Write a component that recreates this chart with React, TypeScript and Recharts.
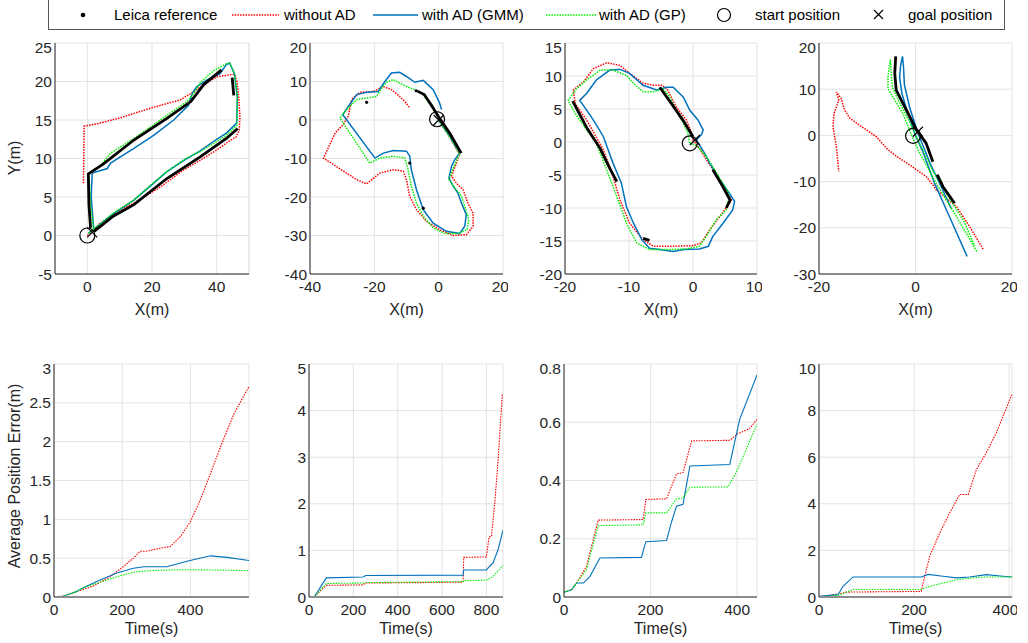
import React from 'react'
import { ComposedChart, Line, Scatter, XAxis, YAxis, CartesianGrid, ReferenceLine } from 'recharts'

// ---- trajectories (x, y in metres) ----
const trajA_red = [[0,0],[4,1.6],[10,3.3],[14.4,4.2],[22.6,6.3],[29.7,8.5],[35,9.8],[40,11.1],[44,12.3],[46,12.8],[47,13.7],[47.2,15.4],[46.8,18],[46.3,20],[45.5,20.9],[44.6,20.9],[40,20.6],[35,19.3],[31.8,18.4],[28.7,17.6],[20,16.6],[10.3,15.3],[3,14.5],[-1,14.2],[-1.2,6.8]]
const trajA_gmm = [[0.3,0.3],[2,0.8],[8,2.8],[14.4,4.6],[20,6.6],[24.6,8.3],[30,9.8],[34.9,11],[40,12.5],[43,13.3],[46.2,14.6],[46.4,18],[45.5,21],[44,22.4],[43,22.2],[41,21],[37,20.2],[33.8,19.3],[32.5,18.5],[31.3,16.9],[26.7,15],[20.5,13],[14.4,11.3],[7.2,9.4],[6.2,8.7],[1.5,8.1],[1.2,5],[2,0.7]]
const trajA_gp = [[0.3,0.3],[2,0.8],[8,2.9],[14.4,4.6],[20,6.7],[24.6,8.3],[30,9.9],[34.9,10.9],[40,12.2],[43,13],[46.2,14.3],[46.4,18],[45.5,21],[44.1,22.4],[43,22.3],[39,21.4],[35,19.9],[32.8,18.4],[30.8,17.4],[24.6,15.6],[19.5,14.1],[14.4,12.6],[7.2,10.7],[4.1,9.1],[0.5,8.1],[1,4],[2,0.7]]
const refA = [
  [[2,0.5],[8,2.5],[14.4,4],[24.6,7.4],[34.9,10.2],[43,12.6],[46.5,13.9]],
  [[41.5,21.5],[36,19.6],[32,17.4],[24.6,15.2],[14.4,12.4],[5,9.3],[0.3,8],[0.5,4],[1,1]],
  [[44.8,20.5],[45.3,18.2]],
]
const refA_dots: number[][] = []
const startA = [[0,0]]
const goalA = [[1.5,0.4]]

const trajB_red = [[0,0],[3.5,-4.5],[6.5,-9],[5.5,-11.2],[4,-14.6],[5.5,-16.4],[7.6,-18.1],[9.1,-21.6],[10.7,-24.2],[10.7,-27.6],[8.6,-29.8],[4.5,-30],[0.3,-28.5],[-3.8,-26.3],[-6.9,-23.3],[-9,-19.8],[-10,-15.5],[-11,-13.3],[-14.1,-12.9],[-18.3,-13.8],[-22.4,-16.6],[-25.5,-15.5],[-35.8,-9.9],[-32.2,-3.4],[-29.7,-1.2],[-28.1,1],[-27.1,5.3],[-24.5,7.2],[-20.3,7.4],[-17.2,8.7],[-14.7,7.9],[-12.1,6.1],[-10.5,4.8],[-9,3.1]]
const trajB_gmm = [[0,0],[3.4,-4.2],[6.5,-8.6],[5,-10.3],[4,-12],[3.2,-15.1],[4.5,-17.2],[6,-19],[7.1,-21.6],[8.6,-24.6],[8.1,-27.6],[6.5,-29.5],[2.4,-28.9],[-1.7,-26.8],[-4.8,-23.3],[-6.9,-18.1],[-8.5,-12.9],[-9,-9.4],[-10,-8.1],[-14.1,-7.9],[-17.2,-8.6],[-19.8,-9.9],[-29.8,1.4],[-28.1,3.5],[-25.5,6.6],[-22.4,7.2],[-18.8,7.4],[-16.7,10],[-14.7,12.2],[-12.1,12.4],[-10,11.3],[-7.4,9.8],[-4.8,10.3],[-1.7,7.9],[0.3,4.4],[0.9,2.7]]
const trajB_gp = [[0,0],[3.4,-4.3],[6.5,-8.7],[5,-11.5],[3.2,-15.5],[5.5,-18.1],[7.1,-19.8],[8.1,-22.4],[9.4,-25.9],[8.8,-28.5],[6,-29.5],[1.9,-29.5],[-1.7,-28],[-4.8,-25],[-6.9,-21.6],[-8.5,-17.2],[-9.5,-12.9],[-10.5,-9.9],[-14.1,-9.4],[-18.3,-9.9],[-21.4,-11.2],[-30.7,0.5],[-29.1,2.3],[-25.5,5.3],[-22.4,5.7],[-19.3,6.1],[-17.7,8.3],[-16.2,9.8],[-14.1,10.5],[-12.1,9.6],[-10,8.7],[-6.9,7.7],[-4.8,6.6],[-2.2,3.5],[-0.2,0.8]]
const refB = [[[-6.6,7.5],[-4.5,6.6],[-2,3.5],[0,0.8],[3.5,-3.5],[7,-8.6]]]
const refB_dots = [[-22.4,4.6],[-9,-11.2],[-4.8,-22.9],[-7,7.6]]
const startB = [[-0.5,0.2]]
const goalB = [[0,0]]

const trajC_red = [[0,0.3],[1,-1],[2.1,-2.7],[4.2,-5.7],[6,-8.8],[4.2,-11.3],[2.6,-13.3],[1.3,-15.3],[0,-15.7],[-3.6,-15.8],[-6.2,-15.8],[-7.8,-14.8],[-9.9,-12.3],[-11.4,-8.8],[-12.5,-5.2],[-14,-1.2],[-16.6,3.3],[-18.4,5.8],[-18.7,7.9],[-17.1,9.1],[-15.6,11.1],[-13.5,12],[-11.4,11.6],[-9.9,10.4],[-7.8,8.9],[-6.2,8.6],[-4.9,8.6],[-4.1,8.1],[-2.6,5.3],[-1,3.3],[-0.2,1.3],[0,0.3]]
const trajC_gmm = [[0.5,0.3],[1.8,-1.7],[2.6,-3.2],[4.2,-5.7],[5.7,-7.8],[6.5,-9],[6.2,-10.3],[4.7,-12.3],[3.1,-14.3],[2.4,-15.8],[1,-16.2],[-1.5,-16.3],[-3.1,-16.6],[-5.2,-16.3],[-6.8,-16.1],[-8,-14.8],[-9.3,-12.3],[-10.4,-9.8],[-11.2,-6.2],[-12.5,-3.2],[-14,0.8],[-15.1,2.6],[-16.1,4.1],[-17.7,6.3],[-16.6,7.4],[-15.1,9.4],[-13,10.9],[-11.4,11],[-9.9,10.4],[-7.8,8.6],[-5.7,7.9],[-4.1,8.3],[-3.1,8.3],[-1.5,6.8],[-0.5,4.8],[0.8,3.3],[1.6,1.8],[1.3,1.1],[0.5,0.3]]
const trajC_gp = [[-0.5,-0.2],[0.5,-0.5],[2.1,-2.2],[4.2,-5.5],[5.7,-8],[5.2,-10.3],[3.6,-11.8],[2.1,-14.3],[1,-15.8],[-1,-16.2],[-4.1,-16.3],[-6.8,-16.3],[-8.8,-15.3],[-10.4,-12.3],[-11.9,-8.3],[-13.5,-4.2],[-15.1,-0.2],[-16.6,1.8],[-18.4,4.3],[-19.5,6.3],[-18.2,8.1],[-16.6,9.4],[-14.5,10.9],[-12.5,10.9],[-10.4,10.1],[-9.3,8.9],[-7.8,7.6],[-6.2,7.6],[-4.7,8.1],[-3.6,6.8],[-2.6,4.8],[-1.5,2.8],[-0.8,1.3],[-0.5,-0.2]]
const refC = [
  [[-18.8,6.2],[-16.5,2],[-14.5,-1],[-13,-4],[-11.9,-6]],
  [[-5.2,8.3],[-3.5,6],[-1.5,3.2],[0,0.8]],
  [[3.1,-4.2],[4.5,-6.5],[5.8,-8.8],[5.2,-10]],
  [[-7.8,-14.6],[-6.8,-14.9]],
]
const refC_dots: number[][] = []
const startC = [[-0.5,-0.2]]
const goalC = [[0.3,0.3]]

const trajD_red = [[14,-24.6],[11.2,-19.7],[8.5,-15.4],[6.4,-13.6],[4.3,-11.8],[3.6,-10.7],[2.2,-8.9],[-1.2,-6.4],[-4,-4.5],[-6,-2.8],[-8.1,-0.3],[-10.9,1.7],[-13.6,3.7],[-14.7,5.5],[-15.4,8],[-16.4,9.4],[-15.9,7.6],[-16.9,4.7],[-17.1,1.9],[-16.4,-2.4],[-15.9,-7.8]]
const trajD_gmm = [[10.7,-26.2],[7,-17.5],[4,-10.5],[1.5,-3.5],[0,0],[-1.5,4.5],[-2.8,9],[-3.3,12.5],[-3.1,15],[-2.7,17.1],[-2.5,15],[-2.3,11],[-1.2,6],[0.5,0.5],[3,-6],[5.5,-11.5],[7.4,-15.8]]
const trajD_gp = [[12.7,-25.1],[8.5,-17.6],[4.3,-10.4],[0.9,-3.9],[-1,0.5],[-2.6,4.7],[-4.7,8.3],[-5.7,10.1],[-5.7,12.7],[-5.2,16.4],[-5,13],[-4.8,10.5],[-3.5,7.5],[-1.5,3.5],[0.5,-1],[3.5,-7.5],[7,-13.5],[10,-18.5],[12.3,-24]]
const refD = [
  [[-4.1,17.1],[-4.3,13.4],[-4,9.8],[-1.9,5.5],[0.2,1.2],[2.2,-1.7],[3.6,-5.7]],
  [[4.5,-8.5],[5.7,-11.1],[8.1,-14.7]],
]
const refD_dots: number[][] = []
const startD = [[-0.5,-0.1]]
const goalD = [[0.5,0.8]]

// ---- average position error (time s, error m) ----
const errA_red = [[0,0],[26.5,0.01],[66,0.07],[115,0.14],[164,0.26],[203,0.39],[233,0.5],[253,0.59],[272,0.59],[302,0.62],[341,0.65],[371,0.78],[400,0.97],[429,1.25],[459,1.59],[488,1.93],[528,2.36],[572,2.71]]
const errA_gmm = [[0,0],[26.5,0.01],[66,0.07],[86,0.12],[135,0.22],[184,0.31],[233,0.37],[263,0.39],[331,0.39],[390,0.46],[459,0.53],[508,0.51],[572,0.47]]
const errA_gp = [[0,0],[26.5,0.01],[66,0.07],[86,0.12],[135,0.19],[184,0.26],[233,0.32],[282,0.34],[351,0.35],[429,0.35],[572,0.34]]

const errB_red = [[0,0.01],[25,0.01],[78,0.25],[244,0.26],[256,0.3],[529,0.31],[695,0.32],[698,0.85],[800,0.86],[812,1.29],[823,1.3],[838,2.02],[853,2.95],[872,4.35]]
const errB_gmm = [[0,0.01],[25,0.01],[78,0.41],[244,0.43],[256,0.46],[695,0.47],[698,0.58],[800,0.58],[815,0.66],[830,0.73],[853,1.02],[875,1.43]]
const errB_gp = [[0,0.01],[25,0.01],[78,0.29],[244,0.3],[256,0.31],[695,0.33],[698,0.35],[800,0.36],[830,0.44],[875,0.68]]

const errC_red = [[0,0.016],[17.7,0.025],[29,0.048],[52,0.105],[79,0.264],[183,0.266],[189,0.335],[237,0.337],[260,0.423],[275,0.427],[295,0.536],[383,0.538],[402,0.561],[429,0.578],[446,0.61]]
const errC_gmm = [[0,0.016],[17.7,0.025],[29,0.048],[45,0.048],[60,0.071],[83,0.134],[179,0.136],[189,0.19],[237,0.194],[248,0.255],[260,0.312],[275,0.318],[291,0.45],[383,0.455],[406,0.61],[446,0.762]]
const errC_gp = [[0,0.016],[17.7,0.025],[29,0.048],[52,0.094],[79,0.245],[183,0.248],[189,0.289],[237,0.289],[260,0.337],[275,0.34],[291,0.377],[379,0.378],[398,0.427],[446,0.593]]

const errD_red = [[0,0],[43.5,0.14],[57.5,0.21],[215,0.24],[219,0.6],[233,1.75],[254,2.75],[275,3.61],[296,4.4],[314,4.4],[331,5.47],[352,6.19],[373,7.05],[406,8.7]]
const errD_gmm = [[0,0.03],[40,0.1],[50.5,0.46],[71.6,0.86],[215,0.86],[229.5,0.97],[261,0.89],[289,0.82],[317,0.86],[352,0.96],[387,0.89],[406,0.86]]
const errD_gp = [[0,0],[40,0.07],[71.6,0.32],[215,0.32],[233,0.46],[261,0.6],[289,0.74],[324,0.82],[352,0.86],[406,0.86]]

const RED = '#ff0000'
const BLUE = '#0072bd'
const GREEN = '#00ee00'
const FONT = '"Liberation Sans", Arial, sans-serif'
const YW = 45
const PAD = 16

const toPts = (a: number[][]) => a.map(([x, y]) => ({ x, y }))

const CircleMark = (p: any) => <circle cx={p.cx} cy={p.cy} r={7.5} fill="none" stroke="#000" strokeWidth={1.2} />
const CrossMark = (p: any) => (
  <path d={`M${p.cx - 5},${p.cy - 5}L${p.cx + 5},${p.cy + 5}M${p.cx - 5},${p.cy + 5}L${p.cx + 5},${p.cy - 5}`} stroke="#000" strokeWidth={1.2} />
)
const DotMark = (p: any) => <circle cx={p.cx} cy={p.cy} r={1.6} fill="#000" />

type PanelProps = {
  rect: [number, number, number, number]
  xDomain: [number, number]
  yDomain: [number, number]
  xTicks: number[]
  yTicks: number[]
  xLabel: string
  xh: number
  red: number[][]
  gmm: number[][]
  gp: number[][]
  refs?: number[][][]
  dots?: number[][]
  start?: number[][]
  goal?: number[][]
  thin?: boolean
  edgeX?: number
}

function Panel(p: PanelProps) {
  const [x0, x1, y0, y1] = p.rect
  const w = x1 - x0 + YW + 5
  const h = y1 - y0 + 5 + p.xh + PAD
  const lw = p.thin ? 1.1 : 1.5
  const tick = { fill: '#262626', fontSize: 15.5, fontFamily: FONT }
  return (
    <div style={{ position: 'absolute', left: x0 - YW, top: y0 - 5 }}>
      <ComposedChart width={w} height={h} margin={{ top: 5, right: 5, bottom: PAD, left: 0 }}>
        <CartesianGrid stroke="#e3e3e3" />
        <XAxis
          type="number"
          dataKey="x"
          domain={p.xDomain}
          ticks={p.xTicks}
          allowDataOverflow
          height={p.xh}
          tickLine={false}
          tickSize={5}
          axisLine={{ stroke: p.thin ? '#8c8c8c' : '#262626', strokeWidth: p.thin ? 2 : 1 }}
          tick={tick}
          label={{ value: p.xLabel, position: 'insideBottom', offset: 0, fill: '#262626', fontSize: 16, fontFamily: FONT }}
        />
        <YAxis
          type="number"
          dataKey="y"
          domain={p.yDomain}
          ticks={p.yTicks}
          allowDataOverflow
          width={YW}
          tickLine={false}
          tickSize={3}
          tickMargin={0}
          axisLine={{ stroke: '#262626' }}
          tick={tick}
        />
        {p.edgeX !== undefined && <ReferenceLine x={p.edgeX} stroke="#e3e3e3" />}
        <Line data={toPts(p.red)} dataKey="y" stroke={RED} strokeWidth={lw} strokeDasharray="1.5 1.2" dot={false} activeDot={false} isAnimationActive={false} />
        <Line data={toPts(p.gmm)} dataKey="y" stroke={BLUE} strokeWidth={lw} dot={false} activeDot={false} isAnimationActive={false} />
        <Line data={toPts(p.gp)} dataKey="y" stroke={GREEN} strokeWidth={lw} strokeDasharray="1.5 1.2" dot={false} activeDot={false} isAnimationActive={false} />
        {(p.refs || []).map((seg, i) => (
          <Line key={i} data={toPts(seg)} dataKey="y" stroke="#000" strokeWidth={2.8} dot={false} activeDot={false} isAnimationActive={false} />
        ))}
        {p.dots && p.dots.length > 0 && <Scatter data={toPts(p.dots)} dataKey="y" shape={DotMark} isAnimationActive={false} />}
        {p.start && <Scatter data={toPts(p.start)} dataKey="y" shape={CircleMark} isAnimationActive={false} />}
        {p.goal && <Scatter data={toPts(p.goal)} dataKey="y" shape={CrossMark} isAnimationActive={false} />}
      </ComposedChart>
    </div>
  )
}

const TOP: [number, number] = [43, 274]
const BOT: [number, number] = [364, 597]

function Legend() {
  const txt = { position: 'absolute' as const, top: 6, fontSize: 15, fontFamily: FONT, color: '#000', whiteSpace: 'nowrap' as const, lineHeight: '18px' }
  return (
    <div style={{ position: 'absolute', left: 48, top: -1, width: 955, height: 29, border: '1px solid #555', background: '#fff' }}>
      <svg width={955} height={29} style={{ position: 'absolute', left: 0, top: 0 }}>
        <circle cx={34} cy={15} r={2.3} fill="#000" />
        <line x1={183} x2={230} y1={15} y2={15} stroke={RED} strokeWidth={1.5} strokeDasharray="1.5 1.2" />
        <line x1={324} x2={369} y1={15} y2={15} stroke={BLUE} strokeWidth={1.5} />
        <line x1={497} x2={547} y1={15} y2={15} stroke={GREEN} strokeWidth={1.5} strokeDasharray="1.5 1.2" />
        <circle cx={675} cy={15} r={6.5} fill="none" stroke="#000" strokeWidth={1.2} />
        <path d="M825,10L834,19M825,19L834,10" stroke="#000" strokeWidth={1.2} />
      </svg>
      <span style={{ ...txt, left: 65 }}>Leica reference</span>
      <span style={{ ...txt, left: 235 }}>without AD</span>
      <span style={{ ...txt, left: 373 }}>with AD (GMM)</span>
      <span style={{ ...txt, left: 550 }}>with AD (GP)</span>
      <span style={{ ...txt, left: 706 }}>start position</span>
      <span style={{ ...txt, left: 859 }}>goal position</span>
    </div>
  )
}

const vlabel = (text: string, cx: number, cy: number) => (
  <div style={{ position: 'absolute', left: cx, top: cy, transform: 'translate(-50%, -50%) rotate(-90deg)', fontSize: 16, fontFamily: FONT, color: '#262626', whiteSpace: 'nowrap' }}>{text}</div>
)

export default function App() {
  return (
    <div style={{ position: 'absolute', left: 0, top: 0, width: 1028, height: 643, background: '#fff', overflow: 'hidden' }}>
      <Panel rect={[55, 249, ...TOP]} xDomain={[-10, 50]} yDomain={[-5, 25]} xTicks={[0, 20, 40]} yTicks={[-5, 0, 5, 10, 15, 20, 25]} xLabel="X(m)" xh={41}
        red={trajA_red} gmm={trajA_gmm} gp={trajA_gp} refs={refA} dots={refA_dots} start={startA} goal={goalA} edgeX={50} />
      <Panel rect={[310, 503, ...TOP]} xDomain={[-40, 20]} yDomain={[-40, 20]} xTicks={[-40, -20, 0, 20]} yTicks={[-40, -30, -20, -10, 0, 10, 20]} xLabel="X(m)" xh={41}
        red={trajB_red} gmm={trajB_gmm} gp={trajB_gp} refs={refB} dots={refB_dots} start={startB} goal={goalB} />
      <Panel rect={[565, 757, ...TOP]} xDomain={[-20, 10]} yDomain={[-20, 15]} xTicks={[-20, -10, 0, 10]} yTicks={[-20, -15, -10, -5, 0, 5, 10, 15]} xLabel="X(m)" xh={41}
        red={trajC_red} gmm={trajC_gmm} gp={trajC_gp} refs={refC} dots={refC_dots} start={startC} goal={goalC} />
      <Panel rect={[819, 1012, ...TOP]} xDomain={[-20, 20]} yDomain={[-30, 20]} xTicks={[-20, 0, 20]} yTicks={[-30, -20, -10, 0, 10, 20]} xLabel="X(m)" xh={41}
        red={trajD_red} gmm={trajD_gmm} gp={trajD_gp} refs={refD} dots={refD_dots} start={startD} goal={goalD} />

      <Panel rect={[54, 249, ...BOT]} xDomain={[0, 572]} yDomain={[0, 3]} xTicks={[0, 200, 400]} yTicks={[0, 0.5, 1, 1.5, 2, 2.5, 3]} xLabel="Time(s)" xh={37}
        red={errA_red} gmm={errA_gmm} gp={errA_gp} thin />
      <Panel rect={[309, 503, ...BOT]} xDomain={[0, 875]} yDomain={[0, 5]} xTicks={[0, 200, 400, 600, 800]} yTicks={[0, 1, 2, 3, 4, 5]} xLabel="Time(s)" xh={37}
        red={errB_red} gmm={errB_gmm} gp={errB_gp} thin />
      <Panel rect={[564, 757, ...BOT]} xDomain={[0, 446]} yDomain={[0, 0.8]} xTicks={[0, 200, 400]} yTicks={[0, 0.2, 0.4, 0.6, 0.8]} xLabel="Time(s)" xh={37}
        red={errC_red} gmm={errC_gmm} gp={errC_gp} thin />
      <Panel rect={[819, 1012, ...BOT]} xDomain={[0, 406]} yDomain={[0, 10]} xTicks={[0, 200, 400]} yTicks={[0, 2, 4, 6, 8, 10]} xLabel="Time(s)" xh={37}
        red={errD_red} gmm={errD_gmm} gp={errD_gp} thin />

      {vlabel('Y(m)', 15, 158)}
      {vlabel('Average Position Error(m)', 15, 476)}
      <Legend />
    </div>
  )
}
